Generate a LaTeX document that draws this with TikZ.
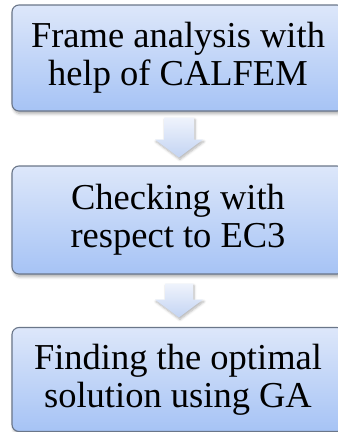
\documentclass[tikz,border=0pt]{standalone}
\usepackage{fontspec}
\setmainfont{Liberation Serif}
\usetikzlibrary{calc,shadows.blur}
\definecolor{boxtop}{HTML}{DDE7FA}
\definecolor{boxbot}{HTML}{A6C3F5}
\definecolor{boxline}{HTML}{6A7689}
\definecolor{arrtop}{HTML}{EFF3FC}
\definecolor{arrbot}{HTML}{C3D4F3}
\tikzset{
  stepbox/.style={draw=boxline, line width=1.1pt, rounded corners=7pt,
    top color=boxtop, bottom color=boxbot, minimum width=332pt,
    inner sep=0pt, align=center,
    font=\fontsize{36.5}{38}\selectfont,
    blur shadow={shadow xshift=1.5pt, shadow yshift=-2.5pt, shadow blur steps=6, shadow blur radius=3pt, shadow opacity=35}},
  downarrow/.style={top color=arrtop, bottom color=arrbot, draw=none,
    blur shadow={shadow xshift=1pt, shadow yshift=-2pt, shadow blur steps=5, shadow blur radius=2.5pt, shadow opacity=30}}
}
\begin{document}
\begin{tikzpicture}[x=1pt,y=1pt]
\useasboundingbox (0,0) rectangle (338,-432);
\begin{scope}
\clip (0,0) rectangle (338,-432);
\node[stepbox, minimum height=106pt] (b1) at (178,-58) {Frame analysis with\\help of CALFEM};
\node[stepbox, minimum height=108pt] (b2) at (178,-220) {Checking with\\respect to EC3};
\node[stepbox, minimum height=104pt] (b3) at (178,-379.5) {Finding the optimal\\solution using GA};
\end{scope}
\path[downarrow]
  ($(b1.south)+(-14pt,-6pt)$) -- ($(b1.south)+(16pt,-6pt)$) --
  ($(b1.south)+(16pt,-28pt)$) -- ($(b1.south)+(25pt,-28pt)$) --
  ($(b2.north)+(1pt,8pt)$) -- ($(b1.south)+(-23pt,-28pt)$) --
  ($(b1.south)+(-14pt,-28pt)$) -- cycle;
\path[downarrow]
  ($(b2.south)+(-13pt,-9pt)$) -- ($(b2.south)+(15pt,-9pt)$) --
  ($(b2.south)+(15pt,-25pt)$) -- ($(b2.south)+(25pt,-25pt)$) --
  ($(b3.north)+(1pt,9.5pt)$) -- ($(b2.south)+(-23pt,-25pt)$) --
  ($(b2.south)+(-13pt,-25pt)$) -- cycle;
\end{tikzpicture}
\end{document}
